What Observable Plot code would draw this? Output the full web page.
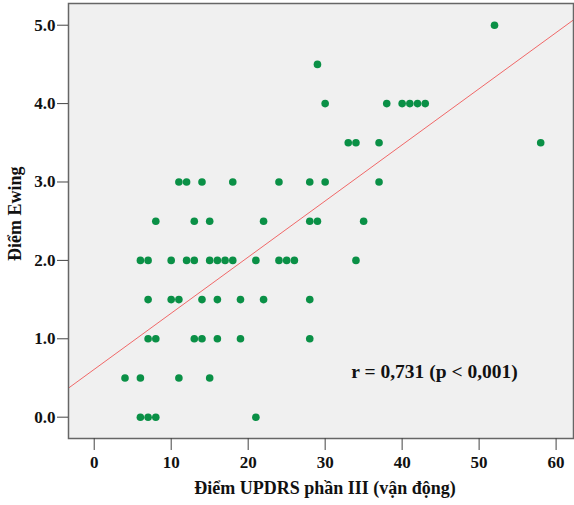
<!DOCTYPE html>
<html><head><meta charset="utf-8">
<script src="https://cdn.jsdelivr.net/npm/d3@7"></script>
<script src="https://cdn.jsdelivr.net/npm/@observablehq/plot@0.6"></script>
<style>body{margin:0;background:#fff}</style>
</head><body><div id="chart"></div>
<script>
const updrs = [52, 29, 30,38,40,41,42,43, 33,34,37,58, 11,12,14,18,24,28,30,37, 8,13,15,22,28,29,35,
  6,7,10,12,13,15,16,17,18,21,24,25,26,34, 7,10,11,14,16,19,22,28, 7,8,13,14,16,19,28, 4,6,11,15, 6,7,8,21];
const ewing = [5.0, 4.5, 4,4,4,4,4,4, 3.5,3.5,3.5,3.5, 3,3,3,3,3,3,3,3, 2.5,2.5,2.5,2.5,2.5,2.5,2.5,
  2,2,2,2,2,2,2,2,2,2,2,2,2,2, 1.5,1.5,1.5,1.5,1.5,1.5,1.5,1.5, 1,1,1,1,1,1,1, 0.5,0.5,0.5,0.5, 0,0,0,0];
const xTicks = [0,10,20,30,40,50,60];
const yTicks = [0,1,2,3,4,5];
const xDomain = [-3.34, 62.26];
const yDomain = [-0.272, 5.277];
const fitIntercept = 0.61;
const fitSlope = 0.0716;
const annotation = "r = 0,731 (p < 0,001)";
const xLabel = "Điểm UPDRS phần III (vận động)";
const yLabel = "Điểm Ewing";

const data = updrs.map((u,i)=>({u, e: ewing[i]}));
const fitLine = xDomain.map(x => ({u: x, e: fitIntercept + fitSlope * x}));

const chart = Plot.plot({
  width: 574, height: 505,
  marginLeft: 68, marginRight: 1, marginTop: 3, marginBottom: 67,
  style: {fontFamily: "'Liberation Serif', 'Times New Roman', serif", fontSize: "17px", fontWeight: "bold", background: "#fff", color: "#111"},
  x: {domain: xDomain},
  y: {domain: yDomain},
  marks: [
    Plot.frame({fill: "#f0f0f0"}),
    Plot.line(fitLine, {x: "u", y: "e", stroke: "#f06868", strokeWidth: 1, clip: true}),
    Plot.dot(data, {x: "u", y: "e", r: 3.8, fill: "#0a9046", stroke: "none"}),
    Plot.text([annotation], {x: 33.4, y: 0.574, text: d => d, textAnchor: "start", fontSize: 19.5, fill: "#111"}),
    Plot.frame({stroke: "#666", strokeWidth: 1.5}),
    Plot.axisX({ticks: xTicks, tickSize: 12, tickPadding: 5, fontSize: 17, label: null, stroke: "#444"}),
    Plot.axisY({ticks: yTicks, tickSize: 11, tickPadding: 2, fontSize: 17, tickFormat: d3.format(".1f"), label: null, stroke: "#444"}),
    Plot.text([xLabel], {frameAnchor: "bottom", dy: 55, dx: 4, text: d => d, fontSize: 18, fill: "#111"}),
    Plot.text([yLabel], {frameAnchor: "left", dx: -53, dy: 40, rotate: -90, text: d => d, fontSize: 18, fill: "#111"})
  ]
});
document.getElementById("chart").append(chart);
</script></body></html>
